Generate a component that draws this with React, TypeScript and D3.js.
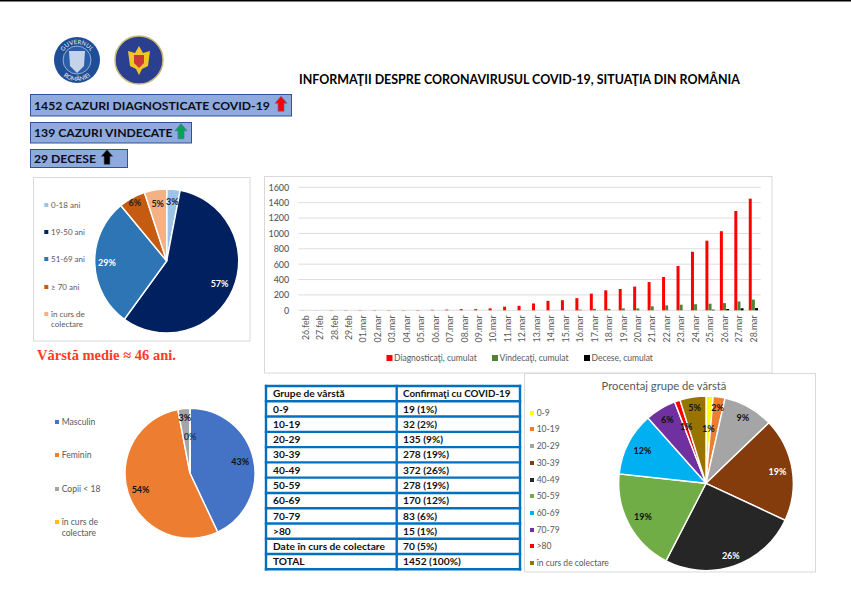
import { useEffect, useRef } from "react";
import * as d3 from "d3";

const FONT = "Lato, 'Noto Sans', sans-serif";
const TEXT_GREY = "#595959";

const dates = [
  "26.feb", "27.feb", "28.feb", "29.feb", "01.mar", "02.mar", "03.mar", "04.mar",
  "05.mar", "06.mar", "07.mar", "08.mar", "09.mar", "10.mar", "11.mar", "12.mar",
  "13.mar", "14.mar", "15.mar", "16.mar", "17.mar", "18.mar", "19.mar", "20.mar",
  "21.mar", "22.mar", "23.mar", "24.mar", "25.mar", "26.mar", "27.mar", "28.mar",
];
const diagnosed = [1, 1, 3, 3, 3, 3, 3, 3, 4, 6, 9, 15, 15, 25, 47, 59, 89, 123, 131, 158, 217, 260, 277, 308, 367, 433, 576, 762, 906, 1029, 1292, 1452];
const recovered = [0, 0, 0, 0, 0, 0, 0, 0, 0, 0, 0, 0, 0, 0, 0, 0, 0, 0, 0, 9, 19, 19, 25, 25, 52, 64, 73, 79, 86, 94, 115, 139];
const deaths = [0, 0, 0, 0, 0, 0, 0, 0, 0, 0, 0, 0, 0, 0, 0, 0, 0, 0, 0, 0, 0, 0, 0, 0, 0, 0, 0, 0, 8, 17, 26, 29];
const yTicks = [0, 200, 400, 600, 800, 1000, 1200, 1400, 1600];
const barSeries = ["Diagnosticaţi, cumulat", "Vindecaţi, cumulat", "Decese, cumulat"];
const barColors = ["#ff0000", "#548235", "#000000"];

const agePieLabels = ["0-18 ani", "19-50 ani", "51-69 ani", "≥ 70 ani", "în curs de\ncolectare"];
const agePieValues = [3, 57, 29, 6, 5];
const agePieColors = ["#9dc3e6", "#002060", "#2e75b6", "#c55a11", "#f4b183"];
const agePieText = ["#222", "#fff", "#fff", "#222", "#222"];

const sexLabels = ["Masculin", "Feminin", "Copii < 18", "în curs de\ncolectare"];
const sexValues = [43, 54, 3, 0];
const sexColors = ["#4472c4", "#ed7d31", "#a5a5a5", "#ffc000"];

const groupLabels = ["0-9", "10-19", "20-29", "30-39", "40-49", "50-59", "60-69", "70-79", ">80", "în curs de colectare"];
const groupValues = [19, 32, 135, 278, 372, 278, 170, 83, 15, 70];
const groupPercents = [1, 2, 9, 19, 26, 19, 12, 6, 1, 5];
const groupColors = ["#ffff00", "#ed7d31", "#a5a5a5", "#843c0c", "#262626", "#70ad47", "#00b0f0", "#7030a0", "#ff0000", "#997300"];
const groupText = ["#111", "#111", "#111", "#fff", "#fff", "#111", "#111", "#111", "#111", "#111"];

const tableHead = ["Grupe de vârstă", "Confirmaţi cu COVID-19"];
const tableFirst = ["0-9", "10-19", "20-29", "30-39", "40-49", "50-59", "60-69", "70-79", ">80", "Date în curs de colectare", "TOTAL"];
const tableSecond = ["19 (1%)", "32 (2%)", "135 (9%)", "278 (19%)", "372 (26%)", "278 (19%)", "170 (12%)", "83 (6%)", "15 (1%)", "70 (5%)", "1452 (100%)"];

const banners = [
  { text: "1452 CAZURI DIAGNOSTICATE COVID-19", w: 261, y: 94.5, h: 21.5, arrow: "#ff0000", ax: 281 },
  { text: "139 CAZURI VINDECATE", w: 161, y: 122.5, h: 20.5, arrow: "#00a651", ax: 181 },
  { text: "29 DECESE", w: 97, y: 149.5, h: 18, arrow: "#000000", ax: 107 },
];

type Sel = d3.Selection<any, unknown, null, undefined>;

function drawPie(
  svg: Sel,
  cx: number,
  cy: number,
  r: number,
  values: number[],
  colors: string[],
  text: string[],
  labels: string[],
  labelRadius: number[],
) {
  const g = svg.append("g").attr("transform", `translate(${cx},${cy})`);
  const pie = d3.pie<number>().sort(null).value((d) => d);
  const arcs = pie(values);
  const arc = d3.arc<d3.PieArcDatum<number>>().innerRadius(0).outerRadius(r);
  g.selectAll("path")
    .data(arcs)
    .join("path")
    .attr("d", arc)
    .attr("fill", (_, i) => colors[i])
    .attr("stroke", "#fff")
    .attr("stroke-width", 1.4);
  arcs.forEach((d, i) => {
    const a = (d.startAngle + d.endAngle) / 2;
    const rr = r * labelRadius[i];
    g.append("text")
      .attr("x", Math.sin(a) * rr)
      .attr("y", -Math.cos(a) * rr)
      .attr("dy", "0.35em")
      .attr("text-anchor", "middle")
      .attr("font-size", 9)
      .attr("font-weight", 700)
      .attr("fill", text[i])
      .text(labels[i]);
  });
}

function drawLegend(
  svg: Sel,
  x: number,
  rows: number[],
  labels: string[],
  colors: string[],
  fontSize: number,
  lineGap: number,
) {
  labels.forEach((label, i) => {
    svg.append("rect")
      .attr("x", x)
      .attr("y", rows[i] - 2)
      .attr("width", 4)
      .attr("height", 4)
      .attr("fill", colors[i]);
    label.split("\n").forEach((line, j) => {
      svg.append("text")
        .attr("x", x + 6.7)
        .attr("y", rows[i] + j * lineGap)
        .attr("dy", "0.35em")
        .attr("font-size", fontSize)
        .attr("fill", TEXT_GREY)
        .text(line);
    });
  });
}

export default function App() {
  const ref = useRef<SVGSVGElement>(null);

  useEffect(() => {
    if (!ref.current) return;
    const svg: Sel = d3.select(ref.current);
    svg.selectAll("*").remove();
    svg.attr("font-family", FONT);

    svg.append("rect").attr("width", 851).attr("height", 1.5).attr("fill", "#000");

    // Logos
    const logo1 = svg.append("g").attr("transform", "translate(77,60)");
    logo1.append("circle").attr("r", 23).attr("fill", "#1f4e96");
    logo1.append("circle").attr("r", 14).attr("fill", "#2a5ea8").attr("stroke", "#dfe8f4").attr("stroke-width", 0.6);
    logo1.append("path").attr("d", "M-8,-9 L8,-9 L7,6 L0,13 L-7,6 Z").attr("fill", "#c5d3e8");
    logo1.append("path").attr("id", "logo-top").attr("d", "M-16,0 A16,16 0 0 1 16,0").attr("fill", "none");
    logo1.append("path").attr("id", "logo-bottom").attr("d", "M-21,0 A21,21 0 0 0 21,0").attr("fill", "none");
    logo1.append("text").attr("font-size", 6).attr("fill", "#e8eef7").attr("text-anchor", "middle")
      .append("textPath").attr("href", "#logo-top").attr("startOffset", "50%").text("GUVERNUL");
    logo1.append("text").attr("font-size", 6).attr("fill", "#e8eef7").attr("text-anchor", "middle")
      .append("textPath").attr("href", "#logo-bottom").attr("startOffset", "50%").text("ROMÂNIEI");

    const logo2 = svg.append("g").attr("transform", "translate(139,60)");
    logo2.append("circle").attr("r", 24).attr("fill", "#2a3f8f").attr("stroke", "#c8b878").attr("stroke-width", 1.5);
    logo2.append("path").attr("d", "M-11,-9 L-4,-7 L0,-14 L4,-7 L11,-9 L9,6 L3,9 L0,15 L-3,9 L-9,6 Z").attr("fill", "#f2c522");
    logo2.append("path").attr("d", "M-5,-5 L5,-5 L5,3 L0,8 L-5,3 Z").attr("fill", "#c8393b");

    // Title
    svg.append("text")
      .attr("x", 299)
      .attr("y", 84)
      .attr("font-size", 12.45)
      .attr("font-weight", 700)
      .attr("fill", "#000")
      .text("INFORMAŢII DESPRE CORONAVIRUSUL COVID-19, SITUAŢIA DIN ROMÂNIA");

    // Banners
    banners.forEach((b) => {
      svg.append("rect")
        .attr("x", 30.5)
        .attr("y", b.y)
        .attr("width", b.w)
        .attr("height", b.h)
        .attr("fill", "#8faadc")
        .attr("stroke", "#2f5597");
      svg.append("text")
        .attr("x", 34)
        .attr("y", b.y + b.h / 2)
        .attr("dy", "0.36em")
        .attr("font-size", 12.2)
        .attr("font-weight", 700)
        .attr("fill", "#0d0d1a")
        .text(b.text);
      const my = b.y + b.h / 2;
      svg.append("path")
        .attr("d", `M${b.ax},${my - 9} L${b.ax + 6},${my - 2} L${b.ax + 3},${my - 2} L${b.ax + 3},${my + 6} L${b.ax - 3},${my + 6} L${b.ax - 3},${my - 2} L${b.ax - 6},${my - 2} Z`)
        .attr("fill", b.arrow)
        .attr("stroke", "#5b6fa8")
        .attr("stroke-width", 0.7);
    });

    // Frames
    [
      [33.5, 177.5, 216.5, 163.5],
      [264.5, 176.5, 507.5, 196.5],
      [524.5, 373.5, 291, 198.5],
    ].forEach(([x, y, w, h]) => {
      svg.append("rect")
        .attr("x", x)
        .attr("y", y)
        .attr("width", w)
        .attr("height", h)
        .attr("fill", "#fff")
        .attr("stroke", "#d9d9d9")
        .attr("stroke-width", 1);
    });

    // Bar chart
    const x0 = d3.scaleBand().domain(dates).range([298.3, 760.7]).paddingInner(0.35).paddingOuter(0.175);
    const x1 = d3.scaleBand().domain(barSeries).range([0, x0.bandwidth()]);
    const y = d3.scaleLinear().domain([0, 1600]).range([310.3, 187.3]);

    yTicks.forEach((t) => {
      svg.append("line")
        .attr("x1", 298.3)
        .attr("x2", 760.7)
        .attr("y1", y(t))
        .attr("y2", y(t))
        .attr("stroke", "#d9d9d9")
        .attr("stroke-width", 0.9);
    });

    [diagnosed, recovered, deaths].forEach((series, s) => {
      svg.append("g")
        .selectAll("rect")
        .data(series)
        .join("rect")
        .attr("x", (_, i) => x0(dates[i])! + x1(barSeries[s])!)
        .attr("width", x1.bandwidth() * 0.95)
        .attr("y", (d) => y(d))
        .attr("height", (d) => y(0) - y(d))
        .attr("fill", barColors[s]);
    });

    const yAxis = svg.append("g")
      .attr("transform", "translate(298.3,0)")
      .call(d3.axisLeft(y).tickValues(yTicks).tickFormat((d) => String(d)).tickSize(0).tickPadding(9));
    yAxis.select(".domain").remove();
    yAxis.selectAll("text").attr("font-family", FONT).attr("font-size", 9).attr("font-weight", 500).attr("fill", TEXT_GREY);

    const xAxis = svg.append("g")
      .attr("transform", "translate(0,310.3)")
      .call(d3.axisBottom(x0).tickSize(0));
    xAxis.select(".domain").remove();
    xAxis.selectAll("text")
      .attr("font-family", FONT)
      .attr("font-size", 8.8)
      .attr("fill", TEXT_GREY)
      .attr("text-anchor", "end")
      .attr("dy", "0.35em")
      .attr("transform", "translate(0,5) rotate(-90)")
      .attr("x", 0)
      .attr("y", 0);

    const barLegendX = [386.5, 492, 584];
    barSeries.forEach((name, i) => {
      svg.append("rect")
        .attr("x", barLegendX[i])
        .attr("y", 355)
        .attr("width", 6)
        .attr("height", 6)
        .attr("fill", barColors[i]);
      svg.append("text")
        .attr("x", barLegendX[i] + 7.5)
        .attr("y", 358)
        .attr("dy", "0.35em")
        .attr("font-size", 8.5)
        .attr("fill", TEXT_GREY)
        .text(name);
    });

    // Top left pie
    drawPie(svg, 166.7, 261, 72, agePieValues, agePieColors, agePieText,
      agePieValues.map((v) => `${v}%`), [0.82, 0.8, 0.83, 0.92, 0.8]);
    drawLegend(svg, 44.3, [205, 232, 259, 287, 314], agePieLabels, agePieColors, 8, 10.5);

    svg.append("text")
      .attr("x", 37)
      .attr("y", 360)
      .attr("font-family", "'Liberation Serif', serif")
      .attr("font-size", 14.5)
      .attr("font-weight", 700)
      .attr("fill", "#ff3b1f")
      .text("Vârstă medie ≈ 46 ani.");

    // Bottom left pie
    drawPie(svg, 190, 473.3, 65, sexValues, sexColors, ["#111", "#111", "#111", "#1f3864"],
      sexValues.map((v) => `${v}%`), [0.79, 0.8, 0.85, 0.56]);
    drawLegend(svg, 55, [422, 455, 489, 522], sexLabels, sexColors, 8.6, 11);

    // Table
    const rowScale = d3.scaleBand<number>()
      .domain(d3.range(tableFirst.length + 1))
      .range([386, 569.3]);
    const tableX = [266, 396.7, 520];
    const rowEdges = d3.range(tableFirst.length + 2).map((i) => 386 + i * rowScale.step());
    rowEdges.forEach((e) => {
      svg.append("line")
        .attr("x1", tableX[0] - 1.2)
        .attr("x2", tableX[2] + 1.2)
        .attr("y1", e)
        .attr("y2", e)
        .attr("stroke", "#0070c0")
        .attr("stroke-width", 2.4);
    });
    tableX.forEach((e) => {
      svg.append("line")
        .attr("x1", e)
        .attr("x2", e)
        .attr("y1", 384.8)
        .attr("y2", 570.5)
        .attr("stroke", "#0070c0")
        .attr("stroke-width", 2.4);
    });
    [tableHead[0], ...tableFirst].forEach((t, i) => {
      svg.append("text")
        .attr("x", 273)
        .attr("y", rowScale(i)! + rowScale.bandwidth() / 2)
        .attr("dy", "0.36em")
        .attr("font-size", 10.2)
        .attr("font-weight", 700)
        .attr("fill", "#111")
        .text(t);
    });
    [tableHead[1], ...tableSecond].forEach((t, i) => {
      svg.append("text")
        .attr("x", 403)
        .attr("y", rowScale(i)! + rowScale.bandwidth() / 2)
        .attr("dy", "0.36em")
        .attr("font-size", i === 0 ? 9.8 : 10.2)
        .attr("font-weight", 700)
        .attr("fill", "#111")
        .text(t);
    });

    // Bottom right pie
    svg.append("text")
      .attr("x", 664)
      .attr("y", 386)
      .attr("dy", "0.35em")
      .attr("text-anchor", "middle")
      .attr("font-size", 11.2)
      .attr("fill", TEXT_GREY)
      .text("Procentaj grupe de vârstă");
    drawPie(svg, 706, 483.3, 87.3, groupValues, groupColors, groupText,
      groupPercents.map((v) => `${v}%`), [0.62, 0.88, 0.86, 0.83, 0.88, 0.82, 0.82, 0.85, 0.69, 0.87]);
    drawLegend(svg, 530, [413, 429, 446, 463, 480, 496, 513, 530, 546, 563], groupLabels, groupColors, 8.5, 10);
  }, []);

  return (
    <>
      <style>{"body{margin:0;background:#fff}"}</style>
      <svg ref={ref} width={851} height={603} style={{ display: "block" }} />
    </>
  );
}
